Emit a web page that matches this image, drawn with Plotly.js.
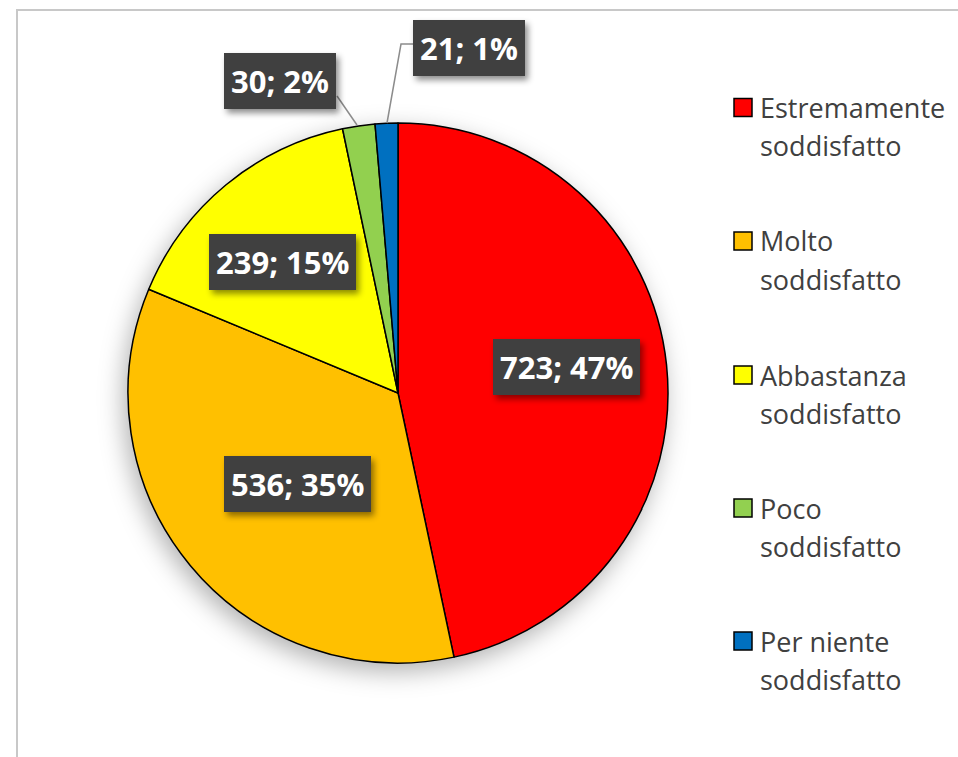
<!DOCTYPE html>
<html>
<head>
<meta charset="utf-8">
<script src="https://cdn.plot.ly/plotly-3.0.1.min.js"></script>
<style>
html,body{margin:0;padding:0;background:#fff;}
#chart{width:958px;height:757px;}
</style>
</head>
<body>
<div id="chart"></div>
<script>
// ---- data ----
const categories = ["Estremamente soddisfatto", "Molto soddisfatto", "Abbastanza soddisfatto", "Poco soddisfatto", "Per niente soddisfatto"];
const values = [723, 536, 239, 30, 21];
const sliceColors = ["#FF0000", "#FFC000", "#FFFF00", "#92D050", "#0070C0"];

// ---- layout helpers ----
const W = 958, H = 757;
const px = x => x / W;
const py = y => 1 - y / H;

const total = values.reduce((a, b) => a + b, 0);
const labelTexts = values.map(v => v + "; " + Math.round(v / total * 100) + "%");
const labelCenters = [[566, 367], [297, 484], [282, 262], [280, 81], [469, 48]];

const annotations = [];
const shapes = [];

// data labels
labelTexts.forEach((t, i) => {
  annotations.push({
    xref: "paper", yref: "paper",
    x: px(labelCenters[i][0]), y: py(labelCenters[i][1]),
    xanchor: "center", yanchor: "middle",
    text: "<b>" + t + "</b>",
    showarrow: false,
    bgcolor: "#404040",
    borderpad: 7,
    borderwidth: 0,
    font: {family: "Open Sans, sans-serif", size: 31, color: "#ffffff"}
  });
});

// leader lines
shapes.push({type: "path", xref: "paper", yref: "paper",
  path: `M ${px(337)} ${py(96)} L ${px(357)} ${py(125)}`,
  line: {color: "#8c8c8c", width: 1.5}});
shapes.push({type: "path", xref: "paper", yref: "paper",
  path: `M ${px(413)} ${py(44)} L ${px(401)} ${py(44)} L ${px(387)} ${py(123)}`,
  line: {color: "#8c8c8c", width: 1.5}});

// frame
shapes.push({type: "line", xref: "paper", yref: "paper", x0: px(16), x1: 1, y0: py(10), y1: py(10), line: {color: "#c8c8c8", width: 2}});
shapes.push({type: "line", xref: "paper", yref: "paper", x0: px(17), x1: px(17), y0: py(10), y1: 0, line: {color: "#c8c8c8", width: 2}});

// custom legend
const legY = [107.5, 241, 375, 508, 641];
categories.forEach((c, i) => {
  const k = c.lastIndexOf(" ");
  const l1 = c.slice(0, k), l2 = c.slice(k + 1);
  shapes.push({type: "rect", xref: "paper", yref: "paper",
    x0: px(734), x1: px(752), y0: py(legY[i] - 9), y1: py(legY[i] + 9),
    fillcolor: sliceColors[i], line: {color: "#000000", width: 1.5}});
  annotations.push({xref: "paper", yref: "paper", x: px(758), y: py(legY[i] + 0),
    xanchor: "left", yanchor: "middle", showarrow: false, text: l1,
    font: {family: "Open Sans, sans-serif", size: 27, color: "#404040"}});
  annotations.push({xref: "paper", yref: "paper", x: px(758), y: py(legY[i] + 38),
    xanchor: "left", yanchor: "middle", showarrow: false, text: l2,
    font: {family: "Open Sans, sans-serif", size: 27, color: "#404040"}});
});

const trace = {
  type: "pie",
  labels: categories,
  values: values,
  sort: false,
  direction: "clockwise",
  rotation: 0,
  marker: {colors: sliceColors, line: {color: "#000000", width: 1.5}},
  textinfo: "none",
  hoverinfo: "label+value+percent",
  showlegend: false,
  domain: {x: [px(128), px(668)], y: [py(663), py(123)]}
};

const layout = {
  width: W, height: H,
  margin: {l: 0, r: 0, t: 0, b: 0},
  paper_bgcolor: "#ffffff",
  showlegend: false,
  annotations: annotations,
  shapes: shapes
};

Plotly.newPlot("chart", [trace], layout, {displayModeBar: false, staticPlot: true}).then(() => {
  // soft drop shadows for pie and label boxes
  const svg = document.querySelector("#chart svg.main-svg");
  const ns = "http://www.w3.org/2000/svg";
  let defs = svg.querySelector("defs");
  if (!defs) { defs = document.createElementNS(ns, "defs"); svg.insertBefore(defs, svg.firstChild); }
  function mkFilter(id, dx, dy, blur, op) {
    const f = document.createElementNS(ns, "filter");
    f.setAttribute("id", id);
    f.setAttribute("x", "-20%"); f.setAttribute("y", "-20%");
    f.setAttribute("width", "140%"); f.setAttribute("height", "140%");
    f.innerHTML = `<feGaussianBlur in="SourceAlpha" stdDeviation="${blur}"/>
      <feOffset dx="${dx}" dy="${dy}" result="ob"/>
      <feFlood flood-color="#000" flood-opacity="${op}"/>
      <feComposite in2="ob" operator="in"/>
      <feMerge><feMergeNode/><feMergeNode in="SourceGraphic"/></feMerge>`;
    defs.appendChild(f);
  }
  mkFilter("pieShadow", -4, 8, 12, 0.3);
  mkFilter("boxShadow", 3, 4, 3, 0.45);
  const pl = document.querySelector("#chart .pielayer");
  if (pl) pl.setAttribute("filter", "url(#pieShadow)");
  const boxes = document.querySelectorAll("#chart .annotation .bg");
  boxes.forEach(b => { if (b.getAttribute("style") && b.style.fill && b.style.fill !== "rgba(0, 0, 0, 0)") b.setAttribute("filter", "url(#boxShadow)"); });
});
</script>
</body>
</html>
